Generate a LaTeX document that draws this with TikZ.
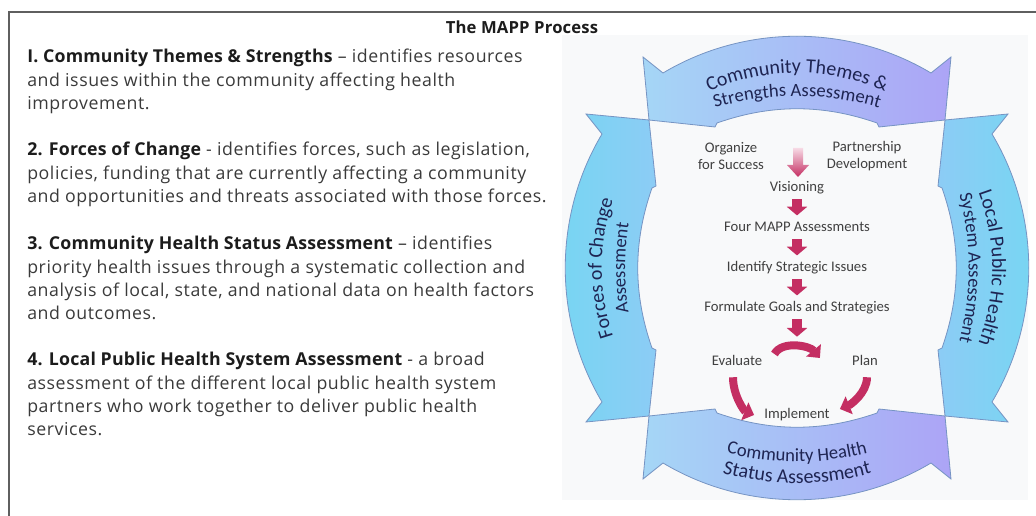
\documentclass[tikz,border=0pt]{standalone}
\usepackage{fontspec}
\setmainfont{Open Sans}[LetterSpace=3.2,BoldFeatures={LetterSpace=1}]
\newfontfamily\calibrifont{Carlito}
\usetikzlibrary{arrows.meta,positioning,calc,decorations.text}
\definecolor{framegray}{RGB}{95,95,95}
\definecolor{panelgray}{RGB}{248,249,250}
\definecolor{bodytext}{RGB}{58,58,58}
\definecolor{headtext}{RGB}{28,28,28}
\definecolor{bandsky}{RGB}{165,214,246}
\definecolor{bandlilac}{RGB}{172,164,246}
\definecolor{bandcyan}{RGB}{118,214,242}
\definecolor{bandblue}{RGB}{140,204,245}
\definecolor{bandedge}{RGB}{118,148,195}
\definecolor{bandtext}{RGB}{30,36,82}
\definecolor{flowtext}{RGB}{64,64,64}
\definecolor{flowred}{RGB}{196,46,98}
\definecolor{flowpink}{RGB}{247,218,229}

\newcommand{\bodyfont}{\fontsize{13.3pt}{17.5pt}\selectfont}
\newcommand{\titlefont}{\bfseries\fontsize{12.5pt}{15pt}\selectfont}
\newcommand{\flowfont}{\calibrifont\fontsize{11pt}{12.75pt}\selectfont}
\newcommand{\bandfont}{\calibrifont\fontsize{15pt}{18pt}\selectfont}
\newcommand{\bandinner}{\calibrifont\fontsize{14pt}{17pt}\selectfont}

% one curved band, drawn round (0,0) in its top position
\newcommand{\bandpath}{(-154,-211) -- (-134,-195)
  .. controls (-52,-244) and (52,-244) .. (134,-195) -- (154,-211)
  -- (148,-148) -- (82,-141) -- (80,-145)
  .. controls (26,-164) and (-26,-164) .. (-80,-145)
  -- (-82,-141) -- (-148,-148) -- cycle}
% baselines for the two label lines of a band
\newcommand{\outerline}{(-120,-160) .. controls (-40,-207) and (40,-207) .. (120,-160)}
\newcommand{\innerline}{(-112,-150) .. controls (-37,-179) and (37,-179) .. (112,-150)}

\begin{document}
\begin{tikzpicture}[x=0.75pt,y=-0.75pt,
    body/.style={font=\bodyfont,text=bodytext,align=left,anchor=north west,inner sep=0pt},
    flow/.style={font=\flowfont,text=flowtext,inner sep=0pt,text height=8pt,text depth=2.5pt},
    flowpair/.style={font=\flowfont,text=flowtext,inner sep=0pt,align=center},
    flowarrow/.style={flowred,line width=7.5pt,-{Triangle[width=15pt,length=6.5pt]},shorten <=3pt,shorten >=4pt},
    cyclearrow/.style={flowred,line width=6pt,-{Triangle[width=14pt,length=7.5pt]}},
    bandline/.style={draw=bandedge,line width=0.6pt},
    bandlabel/.style={decorate,decoration={text along path,text align=center,text color=bandtext}}]
  \useasboundingbox (0,0) rectangle (1036,516);

  % page frame and the panel behind the wheel
  \draw[framegray,line width=1.5pt] (9,516) -- (9,12) -- (1036,12);
  \fill[panelgray] (562,35) rectangle (1028,500);

  \node[font=\titlefont,text=headtext] (title) at (522,27) {The MAPP Process};

  % the four descriptions
  \node[body] (p1) at (27,49) {\textbf{\color{headtext}I. Community Themes \& Strengths} -- identifies resources\\
    and issues within the community affecting health\\
    improvement.};
  \node[body] (p2) at (27,142) {\textbf{\color{headtext}2. Forces of Change} - identifies forces, such as legislation,\\
    policies, funding that are currently affecting a community\\
    and opportunities and threats associated with those forces.};
  \node[body] (p3) at (27,236) {\textbf{\color{headtext}3. Community Health Status Assessment} -- identifies\\
    priority health issues through a systematic collection and\\
    analysis of local, state, and national data on health factors\\
    and outcomes.};
  \node[body] (p4) at (27,352) {\textbf{\color{headtext}4. Local Public Health System Assessment} - a broad\\
    assessment of the different local public health system\\
    partners who work together to deliver public health\\
    services.};

  % the wheel of four assessment bands
  \begin{scope}[shift={(797,268)}]
    \shade[left color=bandsky,right color=bandlilac] \bandpath;
    \shade[rotate=90,left color=bandcyan,right color=bandblue] \bandpath;
    \shade[rotate=-90,left color=bandblue,right color=bandcyan] \bandpath;
    \shade[yscale=-1,left color=bandsky,right color=bandlilac] \bandpath;
    \foreach \ang in {0,90,-90}
      \draw[bandline,rotate=\ang] \bandpath;
    \draw[bandline,yscale=-1] \bandpath;

    \path[bandlabel,decoration={text={|\bandfont|Community Themes {\&}}}] \outerline;
    \path[bandlabel,decoration={text={|\bandinner|Strengths Assessment}}] \innerline;
    \path[bandlabel,rotate=90,decoration={text={|\bandfont|Forces of Change}}] \outerline;
    \path[bandlabel,rotate=90,decoration={text={|\bandinner|Assessment}}] \innerline;
    \path[bandlabel,rotate=-90,decoration={text={|\bandfont|Local Public Health}}] \outerline;
    \path[bandlabel,rotate=-90,decoration={text={|\bandinner|System Assessment}}] \innerline;
    \path[bandlabel,decoration={text={|\bandinner|Community Health}}]
      (-110,172) .. controls (-37,201) and (37,201) .. (110,172);
    \path[bandlabel,decoration={text={|\bandfont|Status Assessment}}]
      (-120,189) .. controls (-40,224) and (40,224) .. (120,189);
  \end{scope}

  % the process steps inside the wheel
  \node[flowpair] (organize) at (731,156) {Organize\\for Success};
  \node[flowpair] (partner) at (867,156) {Partnership\\Development};
  \node[flow] (vision) at (797,188) {Visioning};
  \node[flow] (assess) at (797,228) {Four MAPP Assessments};
  \node[flow] (issues) at (797,268) {Identify Strategic Issues};
  \node[flow] (goals) at (797,308) {Formulate Goals and Strategies};
  \node[flow] (evaluate) at (737,362) {Evaluate};
  \node[flow] (plan) at (865,362) {Plan};
  \node[flow] (implement) at (797,415) {Implement};
  \coordinate (fadetop) at (798,148);
  \coordinate (cycletop) at (797,342);

  \shade[top color=flowpink,bottom color=flowred] (fadetop) ++(-5,0) -- ++(10,0) -- ++(0,17)
    -- ++(6,0) -- ++(-11,12) -- ++(-11,-12) -- ++(6,0) -- cycle;
  \foreach \a/\b in {vision/assess,assess/issues,issues/goals,goals/cycletop}
    \draw[flowarrow] (\a) -- (\b);
  \draw[cyclearrow] ([shift={(12,-8)}]evaluate.east) .. controls +(8,-14) and +(-10,-12) .. ([shift={(-32,-4)}]plan.west);
  \draw[cyclearrow] ([shift={(-4,8)}]evaluate.south) .. controls +(0,18) and +(-10,-4) .. ([shift={(-10,0)}]implement.west);
  \draw[cyclearrow] ([shift={(2,8)}]plan.south) .. controls +(0,16) and +(10,-4) .. ([shift={(10,-6)}]implement.east);
\end{tikzpicture}
\end{document}
